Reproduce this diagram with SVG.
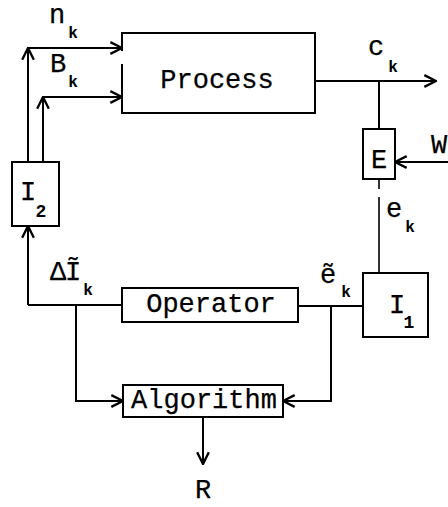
<svg xmlns="http://www.w3.org/2000/svg" width="448" height="507" viewBox="0 0 448 507">
  <style>
    .box { fill: #fff; stroke: #000; stroke-width: 2; }
    .ln { fill: none; stroke: #000; stroke-width: 2; }
    .thin { fill: none; stroke: #000; stroke-width: 1.6; }
    .arr { marker-end: url(#chev); }
    .t { font-family: "Liberation Mono", "DejaVu Sans Mono", monospace; font-size: 27px; fill: #000; stroke: #000; stroke-width: 0.25px; }
    .sub { font-family: "Liberation Mono", "DejaVu Sans Mono", monospace; font-size: 16px; font-weight: bold; fill: #000; }
    .num { font-family: "Liberation Mono", "DejaVu Sans Mono", monospace; font-size: 18px; font-weight: bold; fill: #000; }
  </style>
  <defs>
    <marker id="chev" markerUnits="userSpaceOnUse" markerWidth="14" markerHeight="14" refX="11" refY="6" orient="auto" viewBox="0 0 12 12">
      <path d="M1,1 L11,6 L1,11" fill="none" stroke="#000" stroke-width="2"/>
    </marker>
  </defs>

  <rect width="448" height="507" fill="#fff"/>

  <!-- connectors -->
  <g id="connectors">
    <!-- I2 feeds back to the process inputs n_k and B_k -->
    <path class="ln arr" d="M28,162 V48"/>
    <path class="ln arr" d="M28,48 H122"/>
    <path class="ln arr" d="M43,162 V97"/>
    <path class="ln arr" d="M43,97 H122"/>
    <!-- process output c_k -->
    <path class="ln arr" d="M315,81 H436"/>
    <path class="ln" d="M379,81 V129"/>
    <!-- disturbance W into E -->
    <path class="ln arr" d="M450,162 H395"/>
    <!-- E to I1 (e_k) -->
    <path class="thin" d="M379,179 V189 M379,197 V273"/>
    <!-- I1 to Operator (e~_k) -->
    <path class="ln" d="M363,306 H298"/>
    <path class="ln arr" d="M331,306 V401 H283"/>
    <!-- Operator to I2 (dI~_k) -->
    <path class="ln" d="M122,305 H28"/>
    <path class="ln arr" d="M28,305 V226"/>
    <path class="ln arr" d="M76,305 V401 H123"/>
    <!-- Algorithm output R -->
    <path class="ln arr" d="M203,417 V464"/>
  </g>

  <g id="process">
    <path class="box" d="M315,33 H122 V113 H315 Z"/>
    <path d="M122,51 V64" stroke="#fff" stroke-width="4"/>
    <text class="t" x="217" y="88" text-anchor="middle">Process</text>
  </g>

  <g id="estimator">
    <rect class="box" x="363" y="129" width="32" height="50"/>
    <text class="t" x="379" y="168" text-anchor="middle">E</text>
  </g>

  <g id="i1">
    <rect class="box" x="363" y="273" width="65" height="64"/>
    <text class="t" x="397" y="313" text-anchor="middle">I</text>
    <text class="num" x="409" y="328" text-anchor="middle">1</text>
  </g>

  <g id="i2">
    <rect class="box" x="12" y="162" width="47" height="64"/>
    <text class="t" x="28" y="200" text-anchor="middle">I</text>
    <text class="num" x="41" y="217" text-anchor="middle">2</text>
  </g>

  <g id="operator">
    <rect class="box" x="122" y="288" width="176" height="34"/>
    <text class="t" x="211" y="312" text-anchor="middle">Operator</text>
  </g>

  <g id="algorithm">
    <rect class="box" x="123" y="385" width="160" height="32"/>
    <text class="t" x="204" y="408" text-anchor="middle">Algorithm</text>
  </g>

  <!-- signal labels -->
  <g id="labels">
    <text class="t" x="57" y="23" text-anchor="middle">n</text>
    <text class="sub" x="73" y="38" text-anchor="middle">k</text>
    <text class="t" x="58" y="72" text-anchor="middle">B</text>
    <text class="sub" x="73" y="87" text-anchor="middle">k</text>
    <text class="t" x="376" y="55" text-anchor="middle">c</text>
    <text class="sub" x="393" y="72" text-anchor="middle">k</text>
    <text class="t" x="439" y="153" text-anchor="middle">W</text>
    <text class="t" x="394" y="217" text-anchor="middle">e</text>
    <text class="sub" x="410" y="232" text-anchor="middle">k</text>
    <text class="t" x="328" y="283" text-anchor="middle">ẽ</text>
    <text class="sub" x="346" y="297" text-anchor="middle">k</text>
    <text class="t" x="58" y="280" text-anchor="middle">Δ</text>
    <text class="t" x="73" y="280" text-anchor="middle">Ĩ</text>
    <text class="sub" x="88" y="295" text-anchor="middle">k</text>
    <text class="t" x="203" y="498" text-anchor="middle">R</text>
  </g>
</svg>
